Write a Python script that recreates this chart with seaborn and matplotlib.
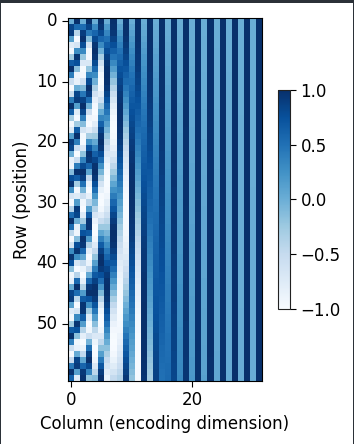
import numpy as np
import matplotlib
matplotlib.use("Agg")
import matplotlib.pyplot as plt
from matplotlib.patches import Rectangle
import seaborn as sns

# Cell values in hundredths, read column by column (rows 0..59)
col_00 = [0,84,91,14,-76,-96,-28,66,99,41,-54,-100,-54,42,99,65,-29,-96,-75,15,91,84,-1,-85,-91,-13,76,96,27,-66,-99,-40,55,100,53,-43,-99,-64,30,96,75,-16,-92,-83,2,85,90,12,-77,-95,-26,67,99,40,-56,-100,-52,44,99,64]
col_01 = [100,54,-42,-99,-65,28,96,75,-15,-91,-84,0,84,91,14,-76,-96,-28,66,99,41,-55,-100,-53,42,99,65,-29,-96,-75,15,91,83,-1,-85,-90,-13,77,96,27,-67,-99,-40,56,100,53,-43,-99,-64,30,96,74,-16,-92,-83,2,85,90,12,-77]
col_02 = [0,53,90,99,78,32,-23,-71,-98,-94,-61,-10,45,86,100,84,41,-13,-64,-95,-97,-69,-19,36,80,100,89,50,-4,-56,-92,-99,-75,-29,26,74,98,93,58,6,-48,-87,-100,-82,-38,17,67,96,96,66,16,-39,-82,-100,-87,-47,7,59,93,98]
col_03 = [100,85,43,-12,-63,-95,-97,-70,-21,34,79,99,89,52,-2,-55,-91,-99,-77,-31,25,73,98,93,60,8,-47,-87,-100,-83,-40,15,66,96,96,67,18,-37,-81,-100,-88,-49,5,58,92,99,74,27,-28,-75,-99,-92,-56,-4,50,88,100,80,36,-19]
col_04 = [0,31,59,81,95,100,95,80,57,29,-2,-34,-61,-83,-96,-100,-94,-78,-54,-26,4,36,63,84,97,100,93,76,52,23,-8,-39,-66,-86,-98,-100,-92,-74,-49,-19,12,42,68,87,98,99,91,72,46,16,-15,-45,-71,-89,-99,-99,-90,-70,-43,-13]
col_05 = [100,95,81,58,30,-1,-32,-60,-82,-96,-100,-94,-79,-56,-28,3,35,62,84,96,100,94,78,55,26,-5,-36,-63,-84,-97,-100,-93,-77,-53,-24,7,38,66,87,98,100,92,75,51,22,-9,-40,-68,-89,-99,-99,-90,-71,-46,-17,14,44,71,90,99]
col_06 = [0,18,34,50,65,78,88,95,99,100,98,93,85,74,60,46,29,12,-6,-23,-40,-55,-69,-80,-90,-96,-100,-100,-97,-91,-81,-70,-56,-41,-24,-7,11,28,45,59,73,84,92,98,100,99,95,88,78,66,51,35,18,1,-17,-34,-50,-64,-77,-87]
col_07 = [100,98,94,86,76,63,48,32,15,-3,-20,-37,-53,-67,-80,-89,-96,-99,-100,-97,-92,-83,-72,-59,-44,-27,-10,8,25,42,58,71,83,91,97,100,99,96,89,80,68,54,38,21,4,-13,-31,-47,-62,-75,-86,-94,-98,-100,-99,-94,-87,-76,-64,-49]
col_08 = [0,10,20,30,39,48,56,64,72,78,84,89,93,96,99,100,100,99,97,95,91,86,81,75,68,60,52,43,33,24,14,4,-6,-16,-26,-35,-44,-53,-61,-69,-76,-82,-87,-92,-95,-98,-99,-100,-100,-98,-96,-93,-88,-83,-77,-71,-63,-55,-46,-37]
col_09 = [100,100,98,96,92,88,83,76,70,62,54,45,36,26,17,7,-3,-13,-23,-32,-42,-50,-59,-67,-74,-80,-86,-90,-94,-97,-99,-100,-100,-99,-97,-94,-90,-85,-79,-73,-65,-57,-49,-40,-31,-21,-11,-1,9,19,28,38,47,56,63,71,78,83,88,93]
col_10 = [0,6,11,17,22,28,33,38,44,49,53,58,62,67,71,75,78,82,85,87,90,92,95,96,98,99,99,100,100,100,99,98,97,96,94,92,90,87,84,81,78,74,70,66,62,57,53,48,43,37,32,26,21,15,11,5,-1,-6,-12,-18]
col_11 = [100,100,99,99,97,96,94,92,90,87,85,82,78,74,71,66,62,58,53,48,43,38,33,27,22,16,11,5,-1,-6,-12,-17,-23,-28,-33,-38,-44,-49,-53,-58,-63,-67,-71,-75,-79,-82,-85,-88,-90,-93,-95,-96,-98,-99,-99,-100,-100,-100,-99,-98]
col_12 = [0,3,6,9,13,16,19,22,25,28,31,34,37,40,43,46,48,51,54,57,59,62,64,66,69,71,73,75,77,79,81,83,85,86,88,89,91,92,93,94,95,96,97,98,98,99,99,100,100,100,100,100,100,99,99,99,98,97,97,96]
col_13 = [100,100,100,100,99,99,98,98,97,96,95,94,93,92,90,89,88,86,84,82,81,79,77,75,73,70,68,66,63,61,58,56,53,50,47,45,42,39,36,33,30,27,24,21,18,15,12,9,5,2,-1,-4,-7,-10,-13,-16,-20,-23,-26,-29]
col_14 = [0,2,4,5,7,9,11,12,14,16,18,19,21,23,25,26,28,30,31,33,35,37,38,40,42,43,45,46,48,49,51,52,54,55,57,58,60,61,62,64,65,66,67,69,70,71,72,73,74,75,77,78,80,81,82,83,84,85,86,87]
col_15 = [100,100,100,100,100,100,99,99,99,99,98,98,98,97,97,96,96,95,95,94,94,93,92,92,91,90,89,89,88,87,86,85,84,83,82,81,80,79,78,77,76,75,73,72,71,70,68,67,66,64,63,62,60,59,57,56,54,53,51,50]
col_16 = [0,1,2,3,4,5,6,7,8,9,10,11,12,13,14,15,16,17,18,19,20,21,22,23,24,25,26,27,28,29,30,31,31,32,33,34,35,36,37,38,39,40,41,42,43,44,44,45,46,47,48,49,50,51,51,52,53,54,55,56]
col_17 = [100,100,100,100,100,100,100,100,100,100,100,100,99,99,99,99,99,99,98,98,98,98,98,98,97,97,97,97,96,96,96,95,95,95,94,94,94,93,93,92,92,91,91,90,90,90,90,89,89,88,88,87,87,86,86,85,85,84,84,83]
col_18 = [0,1,1,2,2,3,3,4,4,5,6,6,7,7,8,8,9,10,10,11,11,12,12,13,13,14,15,15,16,16,17,17,18,18,19,20,20,21,21,22,22,23,23,24,25,25,26,26,27,27,28,29,29,30,30,31,31,32,32,33]
col_19 = [100,100,100,100,100,100,100,100,100,100,100,100,100,100,100,100,100,100,99,99,99,99,99,99,99,99,99,99,99,99,99,98,98,98,98,98,98,98,98,98,97,97,97,97,97,97,97,97,97,97,96,96,96,96,96,96,95,95,95,95]
col_20 = [0,0,1,1,1,2,2,2,3,3,3,3,4,4,4,5,5,5,6,6,6,7,7,7,8,8,8,9,9,9,9,10,10,10,11,11,11,12,12,12,13,13,13,14,14,14,15,15,15,15,16,16,16,17,17,17,18,18,18,19]
col_21 = [100,100,100,100,100,100,100,100,100,100,100,100,100,100,100,100,100,100,100,100,100,100,100,100,100,100,100,100,100,100,100,100,99,99,99,99,99,99,99,99,99,99,99,99,99,99,99,99,99,99,99,99,99,99,99,98,98,98,98,98]
col_22 = [0,0,0,1,1,1,1,1,1,2,2,2,2,2,2,3,3,3,3,3,4,4,4,4,4,4,5,5,5,5,5,6,6,6,6,6,6,7,7,7,7,7,7,8,8,8,8,8,9,9,9,9,9,9,10,10,10,10,10,11]
col_23 = [100,100,100,100,100,100,100,100,100,100,100,100,100,100,100,100,100,100,100,100,100,100,100,100,100,100,100,100,100,100,100,100,100,100,100,100,100,100,100,100,100,100,100,100,100,100,100,100,100,100,100,100,100,100,100,100,99,99,99,99]
col_24 = [0,0,0,0,0,1,1,1,1,1,1,1,1,1,1,2,2,2,2,2,2,2,2,2,2,3,3,3,3,3,3,3,3,3,3,4,4,4,4,4,4,4,4,4,4,5,5,5,5,5,5,5,5,5,5,6,6,6,6,6]
col_25 = [100,100,100,100,100,100,100,100,100,100,100,100,100,100,100,100,100,100,100,100,100,100,100,100,100,100,100,100,100,100,100,100,100,100,100,100,100,100,100,100,100,100,100,100,100,100,100,100,100,100,100,100,100,100,100,100,100,100,100,100]
col_26 = [0,0,0,0,0,0,0,0,0,1,1,1,1,1,1,1,1,1,1,1,1,1,1,1,1,1,1,2,2,2,2,2,2,2,2,2,2,2,2,2,2,2,2,2,2,3,3,3,3,3,3,3,3,3,3,3,3,3,3,3]
col_27 = [100,100,100,100,100,100,100,100,100,100,100,100,100,100,100,100,100,100,100,100,100,100,100,100,100,100,100,100,100,100,100,100,100,100,100,100,100,100,100,100,100,100,100,100,100,100,100,100,100,100,100,100,100,100,100,100,100,100,100,100]
col_28 = [0,0,0,0,0,0,0,0,0,0,0,0,0,0,0,0,1,1,1,1,1,1,1,1,1,1,1,1,1,1,1,1,1,1,1,1,1,1,1,1,1,1,1,1,1,1,1,1,2,2,2,2,2,2,2,2,2,2,2,2]
col_29 = [100,100,100,100,100,100,100,100,100,100,100,100,100,100,100,100,100,100,100,100,100,100,100,100,100,100,100,100,100,100,100,100,100,100,100,100,100,100,100,100,100,100,100,100,100,100,100,100,100,100,100,100,100,100,100,100,100,100,100,100]
col_30 = [0,0,0,0,0,0,0,0,0,0,0,0,0,0,0,0,0,0,0,0,0,0,0,0,0,0,0,0,1,1,1,1,1,1,1,1,1,1,1,1,1,1,1,1,1,1,1,1,1,1,1,1,1,1,1,1,1,1,1,1]
col_31 = [100,100,100,100,100,100,100,100,100,100,100,100,100,100,100,100,100,100,100,100,100,100,100,100,100,100,100,100,100,100,100,100,100,100,100,100,100,100,100,100,100,100,100,100,100,100,100,100,100,100,100,100,100,100,100,100,100,100,100,100]

columns = [col_00, col_01, col_02, col_03, col_04, col_05, col_06, col_07,
           col_08, col_09, col_10, col_11, col_12, col_13, col_14, col_15,
           col_16, col_17, col_18, col_19, col_20, col_21, col_22, col_23,
           col_24, col_25, col_26, col_27, col_28, col_29, col_30, col_31]
x_ticks = [0, 20]
y_ticks = [0, 10, 20, 30, 40, 50]
cbar_ticks = [-1.0, -0.5, 0.0, 0.5, 1.0]

W, H = 354, 444
FS = 12
matrix = np.array(columns, dtype=float).T / 100.0

fig = plt.figure(figsize=(W / 100, H / 100), dpi=100, facecolor="white")
ax = fig.add_axes([68 / W, 1 - 381 / H, 194 / W, 363 / H])
cax = fig.add_axes([278 / W, 1 - 309 / H, 12 / W, 219 / H])

sns.heatmap(matrix, ax=ax, cbar_ax=cax, cmap="Blues", vmin=-1, vmax=1,
            square=False, xticklabels=False, yticklabels=False)

ax.set_xticks([t + 0.5 for t in x_ticks])
ax.set_xticklabels([str(t) for t in x_ticks], rotation=0)
ax.set_yticks([t + 0.5 for t in y_ticks])
ax.set_yticklabels([str(t) for t in y_ticks], rotation=0, va="center")
ax.tick_params(length=4, width=0.8, labelsize=FS)
ax.set_xlabel("Column (encoding dimension)", fontsize=FS)
ax.set_ylabel("Row (position)", fontsize=FS)
for spine in ax.spines.values():
    spine.set_visible(True)
    spine.set_linewidth(0.8)

cbar = ax.collections[0].colorbar
cbar.set_ticks(cbar_ticks)
cbar.ax.tick_params(length=4, width=0.8, labelsize=FS)
cbar.outline.set_visible(True)
cbar.outline.set_linewidth(0.8)
cbar.outline.set_edgecolor("#222222")

# Dark screenshot edge: thick at the top, thin on both sides, none at the bottom
edge = "#2b3138"
for x0, y0, w0, h0 in [(0, H - 3, W, 3), (0, 0, 1, H), (W - 1, 0, 1, H)]:
    fig.add_artist(Rectangle((x0 / W, y0 / H), w0 / W, h0 / H,
                             transform=fig.transFigure, facecolor=edge, edgecolor="none"))

fig.savefig("out.png", dpi=100)
